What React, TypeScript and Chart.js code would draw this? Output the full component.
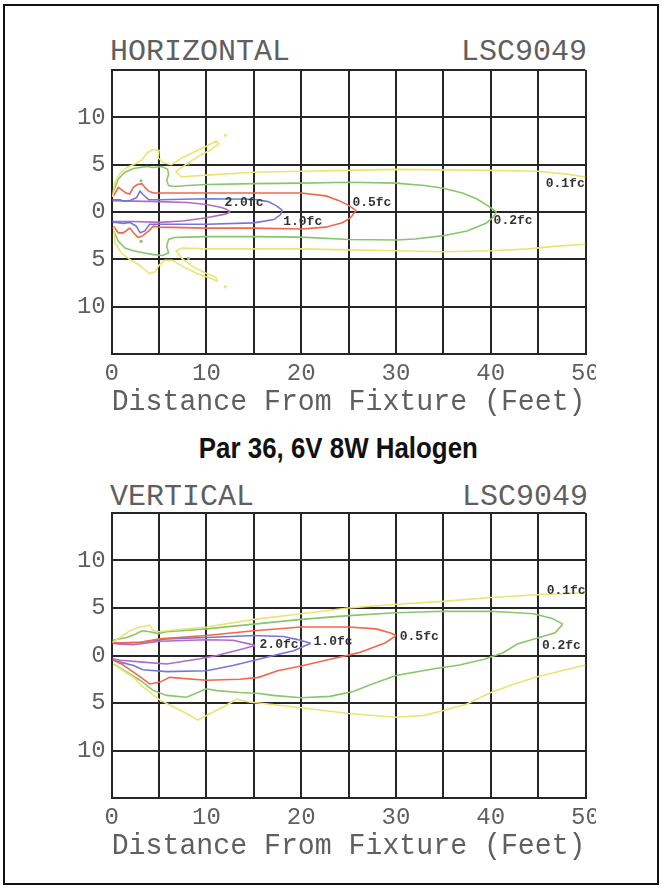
import React, { useEffect, useLayoutEffect, useRef } from 'react';
import { Chart, registerables } from 'chart.js';

Chart.register(...registerables);

type Pt = [number, number];

// ---------- axis ticks ----------
const xTicks = [0, 10, 20, 30, 40, 50];
const yTickLabels = [10, 5, 0, 5, 10];

// ---------- HORIZONTAL chart contours (feet) ----------
const hYellowUpper: Pt[] = [[0.1,1.6],[0.3,3.0],[0.8,4.0],[1.6,4.7],[2.5,5.1],[3.2,5.5],[3.7,6.2],[4.3,6.6],[5.0,6.5],[4.9,5.7],[5.5,5.2],[6.3,5.0],[7.4,5.7],[8.8,6.4],[10.1,7.0],[11.0,7.5],[11.3,7.2],[10.5,6.6],[9.2,5.9],[7.8,5.0],[6.8,4.3],[7.3,3.7],[8.5,3.8],[10,3.9],[15,4.2],[20,4.3],[25,4.4],[30,4.5],[35,4.45],[40,4.4],[45,4.3],[48,4.0],[50,3.7]];
const hYellowLower: Pt[] = [[0.2,-1.6],[0.35,-3.3],[1.0,-4.3],[1.9,-5.0],[2.9,-5.6],[3.5,-6.1],[4.0,-6.5],[4.6,-6.3],[5.0,-5.6],[5.6,-5.1],[6.4,-5.1],[7.6,-5.8],[9.0,-6.5],[10.4,-7.0],[11.1,-7.3],[11.0,-6.9],[10.0,-6.5],[8.6,-5.8],[7.4,-4.9],[6.8,-4.1],[7.4,-3.8],[10,-3.9],[15,-3.9],[20,-3.9],[25,-4.0],[30,-4.1],[35,-4.2],[40,-4.1],[44,-3.9],[47,-3.6],[50,-3.4]];
const hGreenUpper: Pt[] = [[0.2,2.2],[0.7,3.5],[1.4,4.2],[2.3,4.6],[3.0,4.7],[3.7,4.8],[4.4,4.7],[5.3,4.8],[5.9,4.5],[6.0,4.0],[5.8,3.3],[6.0,2.8],[6.6,2.7],[8,2.8],[10,2.9],[15,3.0],[20,3.05],[25,3.15],[30,3.05],[33,2.8],[35,2.5],[37,2.0],[38.5,1.4],[39.8,0.6],[40.6,0.0]];
const hGreenLower: Pt[] = [[40.6,0.0],[40.2,-0.6],[39.5,-1.2],[37.5,-2.0],[35,-2.5],[32,-2.85],[30,-2.95],[25,-2.9],[20,-2.65],[15,-2.6],[10,-2.6],[8,-2.65],[6.6,-2.7],[6.0,-2.9],[5.8,-3.6],[6.0,-4.3],[5.4,-4.6],[4.4,-4.5],[3.3,-4.3],[2.3,-4.1],[1.4,-3.8],[0.7,-3.1],[0.2,-2.0]];
const hRedUpper: Pt[] = [[0.2,1.7],[0.7,2.6],[1.0,2.4],[1.5,2.0],[1.9,1.9],[2.3,2.6],[2.7,2.9],[3.2,3.0],[3.5,2.6],[3.9,2.2],[4.4,2.0],[5,2.0],[10,2.0],[15,2.0],[20,2.0],[22.6,1.7],[24,1.2],[25,0.7],[25.8,0.15]];
const hRedLower: Pt[] = [[25.8,0.15],[25.2,-0.6],[24.4,-1.1],[22.6,-1.6],[20,-1.8],[15,-1.7],[10,-1.7],[5.1,-1.6],[4.4,-1.5],[3.9,-2.0],[3.3,-2.5],[2.8,-2.7],[2.3,-2.2],[1.9,-1.7],[1.2,-2.2],[0.7,-2.2],[0.2,-1.5]];
const hBlueUpper: Pt[] = [[0.1,1.3],[0.9,1.3],[1.2,1.15],[1.9,1.2],[2.6,1.5],[3.0,2.2],[3.3,1.85],[3.9,1.3],[5,1.3],[10,1.4],[15,1.35],[16.5,1.1],[17.3,0.7],[18,0.2]];
const hBlueLower: Pt[] = [[18,0.2],[17.8,-0.3],[17.1,-0.8],[15,-1.15],[10,-1.3],[5,-1.3],[4,-1.3],[3.5,-2.0],[3.0,-2.2],[2.6,-1.5],[1.9,-1.1],[1.2,-1.2],[0.5,-1.1],[0.1,-1.1]];
const hPurpleUpper: Pt[] = [[0.1,1.2],[2.3,1.15],[5,1.1],[8,1.0],[10,0.8],[11.5,0.5],[12.1,0.3],[12.5,0.0]];
const hPurpleLower: Pt[] = [[12.5,0.0],[12.1,-0.2],[10,-0.6],[7.5,-0.95],[5,-1.1],[2.3,-1.0],[0.1,-1.0]];
const hYellowDots: Pt[] = [[12.0,8.1],[12.0,-7.9]];
const hGreenDots: Pt[] = [[8.1,5.1],[8.1,-4.9],[3.1,3.3],[3.1,-3.1]];
const hLabelText = ['2.0fc', '1.0fc', '0.5fc', '0.2fc', '0.1fc'];
const hLabelAt: Pt[] = [[11.9,1.0],[18.1,-1.0],[25.4,1.0],[40.3,-0.9],[45.8,3.0]];

// ---------- VERTICAL chart contours (feet) ----------
const vYellowUpper: Pt[] = [[0.1,1.4],[0.9,1.9],[1.9,2.6],[3.0,3.0],[4.0,3.2],[4.4,2.6],[5.0,2.5],[5.8,2.6],[10,3.0],[15,3.8],[20,4.4],[25,5.0],[30,5.4],[35,5.7],[40,6.1],[45,6.4],[50,6.6]];
const vYellowLower: Pt[] = [[0.2,-0.9],[1.2,-1.6],[2.3,-2.3],[3.3,-3.3],[5.1,-4.7],[6.5,-5.4],[7.9,-6.1],[9.1,-6.8],[10.4,-6.1],[11.8,-5.4],[13.2,-4.6],[14.5,-4.9],[16.5,-5.1],[20,-5.5],[25,-6.1],[30,-6.5],[33,-6.3],[35,-5.8],[37.5,-5.1],[40,-3.9],[42.5,-3.0],[45,-2.2],[47.5,-1.6],[50,-1.0]];
const vGreenUpper: Pt[] = [[0.1,1.6],[1.6,1.9],[2.6,2.3],[3.2,2.6],[4,2.5],[4.9,2.3],[5.8,2.5],[10,2.8],[15,3.3],[20,3.8],[25,4.2],[30,4.5],[35,4.65],[40,4.65],[44.5,4.4],[46.5,3.9],[47.6,3.3]];
const vGreenLower: Pt[] = [[47.6,3.3],[46.8,2.4],[44.5,1.7],[42.8,1.2],[41.3,0.3],[39.3,-0.4],[36.7,-1.0],[34,-1.4],[30,-2.1],[27.5,-3.0],[25.5,-3.8],[23,-4.3],[20,-4.45],[17,-4.2],[15.6,-4.0],[13.5,-3.9],[11.1,-3.7],[10,-3.5],[7.9,-4.4],[5.8,-4.2],[4.4,-3.7],[3,-2.6],[1.6,-1.75],[0.2,-0.9]];
const vRedUpper: Pt[] = [[0.1,1.4],[0.9,1.3],[3,1.4],[5.1,1.75],[10,2.1],[15,2.6],[20,3.0],[25,3.0],[27.9,2.8],[29.5,2.35],[30,2.1]];
const vRedLower: Pt[] = [[30,2.1],[28.9,1.35],[26.1,0.3],[24.8,0.0],[22.6,-0.5],[20,-1.1],[17.5,-1.6],[15.5,-2.3],[13.5,-2.5],[10,-2.6],[6.1,-2.3],[5.1,-2.8],[4,-3.0],[3.3,-2.45],[2.3,-1.75],[1.05,-0.9],[0.2,-0.5]];
const vBlueUpper: Pt[] = [[0.1,1.3],[3,1.4],[5.8,1.75],[10,1.9],[15,2.1],[18.1,2.0],[19.5,1.7],[21,1.3]];
const vBlueLower: Pt[] = [[21,1.3],[19.2,0.5],[17.5,0.1],[15.7,-0.35],[12.8,-1.05],[10,-1.6],[5.8,-1.7],[3.3,-1.5],[2.3,-1.05],[0.9,-0.7],[0.1,-0.5]];
const vPurpleUpper: Pt[] = [[0.1,1.3],[0.9,1.2],[2.3,1.15],[5.1,1.5],[10,1.65],[12.8,1.6],[14.6,1.2],[15.1,1.05]];
const vPurpleLower: Pt[] = [[15.1,1.05],[13.9,0.7],[11.1,0.0],[9.3,-0.35],[5.8,-0.9],[3.3,-0.7],[0.9,-0.5],[0.1,-0.35]];
const vLabelText = ['2.0fc', '1.0fc', '0.5fc', '0.2fc', '0.1fc'];
const vLabelAt: Pt[] = [[15.6,1.15],[21.3,1.5],[30.4,2.0],[45.4,1.0],[45.9,6.8]];

// ---------- styles ----------
const YELLOW = '#ebe472';
const GREEN = '#87c76b';
const RED = '#f2674b';
const BLUE = '#7676d6';
const PURPLE = '#b36bc4';
const GRID = '#262626';
const TEXT = '#5f5f5f';
const MONO = '"Liberation Mono", "DejaVu Sans Mono", monospace';
const CANVAS_W = 556;

type Line = { pts: Pt[]; color: string };

function buildChart(canvas: HTMLCanvasElement, lines: Line[], dots: Line[], labelText: string[], labelAt: Pt[]) {
  const datasets: any[] = lines.map((l) => ({
    type: 'scatter',
    data: l.pts.map(([x, y]) => ({ x, y })),
    showLine: true,
    borderColor: l.color,
    borderWidth: 1.6,
    pointRadius: 0,
    fill: false,
    tension: 0,
  }));
  dots.forEach((d) => {
    datasets.push({
      type: 'scatter',
      data: d.pts.map(([x, y]) => ({ x, y })),
      showLine: false,
      pointRadius: 1.6,
      pointBorderWidth: 0,
      pointBackgroundColor: d.color,
    });
  });

  const labelPlugin = {
    id: 'contourLabels',
    afterDatasetsDraw(chart: any) {
      const ctx = chart.ctx;
      const xs = chart.scales.x;
      const ys = chart.scales.y;
      ctx.save();
      ctx.font = 'bold 13px ' + MONO;
      ctx.fillStyle = '#333333';
      ctx.textAlign = 'left';
      ctx.textBaseline = 'middle';
      labelText.forEach((t, i) => {
        ctx.fillText(t, xs.getPixelForValue(labelAt[i][0]), ys.getPixelForValue(labelAt[i][1]));
      });
      ctx.restore();
    },
  };

  return new Chart(canvas, {
    type: 'scatter',
    data: { datasets },
    plugins: [labelPlugin],
    options: {
      responsive: false,
      animation: false,
      events: [],
      layout: { padding: { top: 4, right: CANVAS_W + 40 - 585.5, left: 0, bottom: 0 } },
      plugins: {
        legend: { display: false },
        tooltip: { enabled: false },
        title: { display: false },
      },
      scales: {
        x: {
          type: 'linear',
          position: 'bottom',
          min: 0,
          max: 50,
          ticks: {
            stepSize: 5,
            autoSkip: false,
            maxRotation: 0,
            padding: 5,
            color: TEXT,
            font: { family: MONO, size: 24 },
            callback: (v: any) => (xTicks.includes(Number(v)) ? String(v) : ''),
          },
          grid: { color: GRID, lineWidth: 2, drawTicks: false },
          border: { color: GRID, width: 2 },
          title: {
            display: true,
            text: 'Distance From Fixture (Feet)',
            color: TEXT,
            font: { family: MONO, size: 29.5 },
            padding: { top: 0, bottom: 0 },
          },
          afterFit: (s: any) => {
            s.height = 66;
            s.paddingLeft = 0;
            s.paddingRight = 0;
          },
        },
        y: {
          type: 'linear',
          min: -15,
          max: 15,
          ticks: {
            stepSize: 5,
            padding: 6,
            color: TEXT,
            font: { family: MONO, size: 24 },
            callback: (v: any, i: number) => (i >= 1 && i <= yTickLabels.length ? String(yTickLabels[yTickLabels.length - i]) : ''),
          },
          grid: { color: GRID, lineWidth: 2, drawTicks: false },
          border: { color: GRID, width: 2 },
          afterFit: (s: any) => {
            s.width = 71.7;
            s.paddingTop = 0;
            s.paddingBottom = 0;
          },
        },
      },
    } as any,
  } as any);
}

function ContourChart(props: { top: number; height: number; lines: Line[]; dots: Line[]; labelText: string[]; labelAt: Pt[] }) {
  const ref = useRef<HTMLCanvasElement>(null);
  useEffect(() => {
    const chart = buildChart(ref.current as HTMLCanvasElement, props.lines, props.dots, props.labelText, props.labelAt);
    return () => chart.destroy();
  }, []);
  return (
    <canvas
      ref={ref}
      width={CANVAS_W}
      height={props.height}
      style={{ position: 'absolute', left: 40, top: props.top, width: CANVAS_W, height: props.height, display: 'block' }}
    />
  );
}

function Heading(props: { text: string; targetWidth: number }) {
  const ref = useRef<HTMLSpanElement>(null);
  useLayoutEffect(() => {
    const el = ref.current;
    if (!el) return;
    el.style.transform = 'none';
    const w = el.getBoundingClientRect().width;
    if (w > 0) el.style.transform = `scaleX(${props.targetWidth / w})`;
  }, []);
  return (
    <div style={{ position: 'absolute', left: 0, width: 677, top: 434, textAlign: 'center' }}>
      <span
        ref={ref}
        style={{
          display: 'inline-block',
          transformOrigin: '50% 50%',
          fontFamily: '"Liberation Sans Narrow", "Liberation Sans", Arial, sans-serif',
          fontWeight: 'bold',
          fontSize: 29,
          lineHeight: '29px',
          color: '#111111',
          whiteSpace: 'nowrap',
        }}
      >
        {props.text}
      </span>
    </div>
  );
}

const hLines: Line[] = [
  { pts: hYellowUpper, color: YELLOW }, { pts: hYellowLower, color: YELLOW },
  { pts: hGreenUpper, color: GREEN }, { pts: hGreenLower, color: GREEN },
  { pts: hRedUpper, color: RED }, { pts: hRedLower, color: RED },
  { pts: hBlueUpper, color: BLUE }, { pts: hBlueLower, color: BLUE },
  { pts: hPurpleUpper, color: PURPLE }, { pts: hPurpleLower, color: PURPLE },
];
const hDots: Line[] = [{ pts: hYellowDots, color: YELLOW }, { pts: hGreenDots, color: GREEN }];
const vLines: Line[] = [
  { pts: vYellowUpper, color: YELLOW }, { pts: vYellowLower, color: YELLOW },
  { pts: vGreenUpper, color: GREEN }, { pts: vGreenLower, color: GREEN },
  { pts: vRedUpper, color: RED }, { pts: vRedLower, color: RED },
  { pts: vBlueUpper, color: BLUE }, { pts: vBlueLower, color: BLUE },
  { pts: vPurpleUpper, color: PURPLE }, { pts: vPurpleLower, color: PURPLE },
];

const titleStyle: React.CSSProperties = {
  position: 'absolute',
  fontFamily: MONO,
  fontSize: 30,
  lineHeight: '30px',
  color: TEXT,
  whiteSpace: 'nowrap',
};

export default function App() {
  return (
    <div style={{ position: 'absolute', left: 0, top: 0, width: 670, height: 890, background: '#ffffff', overflow: 'hidden' }}>
      <div style={{ position: 'absolute', left: 3, top: 4, width: 652, height: 877, border: '2px solid #111111' }} />
      <div style={{ ...titleStyle, left: 110, top: 37 }}>HORIZONTAL</div>
      <div style={{ ...titleStyle, left: 461, top: 37 }}>LSC9049</div>
      <ContourChart top={66} height={354} lines={hLines} dots={hDots} labelText={hLabelText} labelAt={hLabelAt} />
      <Heading text="Par 36, 6V 8W Halogen" targetWidth={279} />
      <div style={{ ...titleStyle, left: 110, top: 482 }}>VERTICAL</div>
      <div style={{ ...titleStyle, left: 462, top: 482 }}>LSC9049</div>
      <ContourChart top={509} height={355} lines={vLines} dots={[]} labelText={vLabelText} labelAt={vLabelAt} />
    </div>
  );
}
